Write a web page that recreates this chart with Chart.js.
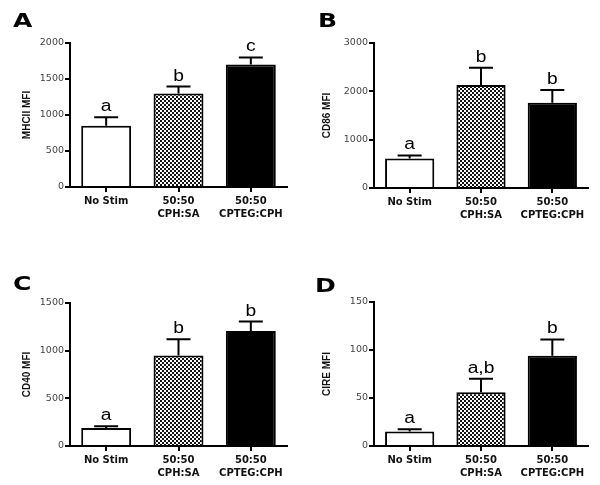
<!DOCTYPE html>
<html>
<head>
<meta charset="utf-8">
<script src="https://cdn.jsdelivr.net/npm/chart.js@4.4.1/dist/chart.umd.min.js"></script>
<style>
  body { margin: 0; background: #fff; }
  #wrap { position: relative; width: 600px; height: 485px; }
  canvas { position: absolute; }
</style>
</head>
<body>
<div id="wrap">
  <canvas id="chartA" width="300" height="240" style="left:0;top:0"></canvas>
  <canvas id="chartB" width="300" height="240" style="left:300px;top:0"></canvas>
  <canvas id="chartC" width="300" height="245" style="left:0;top:240px"></canvas>
  <canvas id="chartD" width="300" height="245" style="left:300px;top:240px"></canvas>
</div>
<script>
const categories = [['No Stim'], ['50:50', 'CPH:SA'], ['50:50', 'CPTEG:CPH']];

const mhciiMean = [850, 1300, 1700];
const mhciiSem = [120, 95, 100];
const mhciiSig = ['a', 'b', 'c'];
const mhciiTicks = [0, 500, 1000, 1500, 2000];

const cd86Mean = [610, 2130, 1765];
const cd86Sem = [65, 360, 265];
const cd86Sig = ['a', 'b', 'b'];
const cd86Ticks = [0, 1000, 2000, 3000];

const cd40Mean = [190, 950, 1205];
const cd40Sem = [17, 170, 100];
const cd40Sig = ['a', 'b', 'b'];
const cd40Ticks = [0, 500, 1000, 1500];

const cireMean = [15, 56, 94];
const cireSem = [2.5, 14, 17];
const cireSig = ['a', 'a,b', 'b'];
const cireTicks = [0, 50, 100, 150];

function checkerPattern(ctx) {
  const c = document.createElement('canvas');
  c.width = 4; c.height = 4;
  const g = c.getContext('2d');
  g.fillStyle = '#fff';
  g.fillRect(0, 0, 4, 4);
  g.fillStyle = '#111';
  g.fillRect(0, 0, 2, 2);
  g.fillRect(2, 2, 2, 2);
  return ctx.createPattern(c, 'repeat');
}

// error bars + significance letters above each bar
const errorBars = {
  id: 'errorBars',
  afterDatasetsDraw(chart, args, opts) {
    const ctx = chart.ctx;
    const yScale = chart.scales.y;
    const ds = chart.data.datasets[0];
    const meta = chart.getDatasetMeta(0);
    ctx.save();
    ctx.strokeStyle = '#000';
    ctx.lineWidth = 2;
    ctx.fillStyle = '#000';
    ctx.font = '16px "Liberation Sans", Arial, sans-serif';
    ctx.textAlign = 'center';
    ctx.textBaseline = 'alphabetic';
    meta.data.forEach((bar, i) => {
      const base = yScale.getPixelForValue(ds.data[i]);
      const top = yScale.getPixelForValue(ds.data[i] + opts.sem[i]);
      ctx.beginPath();
      ctx.moveTo(bar.x, base);
      ctx.lineTo(bar.x, top);
      ctx.moveTo(bar.x - 12, top);
      ctx.lineTo(bar.x + 12, top);
      ctx.stroke();
      ctx.save();
      ctx.translate(bar.x, top - 6);
      ctx.scale(1.2, 1);
      ctx.fillText(opts.sig[i], 0, 0);
      ctx.restore();
    });
    ctx.restore();
  }
};

const panelLetter = {
  id: 'panelLetter',
  afterDraw(chart, args, opts) {
    const ctx = chart.ctx;
    ctx.save();
    ctx.fillStyle = '#000';
    ctx.font = 'bold 20px "DejaVu Sans", sans-serif';
    ctx.textBaseline = 'alphabetic';
    ctx.translate(opts.x, opts.y);
    ctx.scale(1.25, 1);
    ctx.fillText(opts.text, 0, 0);
    ctx.restore();
  }
};

function makePanel(id, letter, letterPos, title, means, sem, sig, ticks, area) {
  const canvas = document.getElementById(id);
  const ctx = canvas.getContext('2d');
  const W = canvas.width, H = canvas.height;
  return new Chart(ctx, {
    type: 'bar',
    data: {
      labels: categories,
      datasets: [{
        data: means,
        backgroundColor: ['#fff', checkerPattern(ctx), '#000'],
        borderColor: '#000',
        borderWidth: 2,
        barPercentage: 0.69,
        categoryPercentage: 1
      }]
    },
    options: {
      responsive: false,
      animation: false,
      layout: { padding: { left: 0, right: W - area.right, top: area.top, bottom: 0 } },
      plugins: {
        legend: { display: false },
        tooltip: { enabled: false },
        errorBars: { sem: sem, sig: sig },
        panelLetter: { text: letter, x: letterPos[0], y: letterPos[1] }
      },
      scales: {
        x: {
          afterFit: s => { s.height = H - area.bottom; },
          grid: { drawOnChartArea: false, drawTicks: true, tickLength: 5, offset: false, color: '#000', lineWidth: 2 },
          border: { display: true, color: '#000', width: 2 },
          ticks: {
            color: '#111',
            font: { family: 'DejaVu Sans', weight: 'bold', size: 10, lineHeight: 1.3 },
            padding: 3, maxRotation: 0, autoSkip: false
          }
        },
        y: {
          min: ticks[0],
          max: ticks[ticks.length - 1],
          afterFit: s => { s.width = area.left; },
          ticks: {
            stepSize: ticks[1] - ticks[0], color: '#444',
            font: { family: 'DejaVu Sans', size: 9.5 }, padding: 1,
            callback: v => String(v)
          },
          grid: { drawOnChartArea: false, drawTicks: true, tickLength: 5, color: '#000', lineWidth: 2 },
          border: { display: true, color: '#000', width: 2 },
          title: {
            display: true, text: title, color: '#111',
            font: { family: 'Liberation Sans', weight: 'bold', size: 10 },
            padding: { top: 21, bottom: 0 }
          }
        }
      }
    },
    plugins: [errorBars, panelLetter]
  });
}

makePanel('chartA', 'A', [13, 27], 'MHCII MFI', mhciiMean, mhciiSem, mhciiSig, mhciiTicks,
  { left: 70, right: 287, top: 43, bottom: 187 });
makePanel('chartB', 'B', [18, 27], 'CD86 MFI', cd86Mean, cd86Sem, cd86Sig, cd86Ticks,
  { left: 74, right: 288, top: 43, bottom: 188 });
makePanel('chartC', 'C', [13, 50], 'CD40 MFI', cd40Mean, cd40Sem, cd40Sig, cd40Ticks,
  { left: 70, right: 287, top: 63, bottom: 206 });
makePanel('chartD', 'D', [15, 52], 'CIRE MFI', cireMean, cireSem, cireSig, cireTicks,
  { left: 74, right: 288, top: 62, bottom: 206 });
</script>
</body>
</html>
